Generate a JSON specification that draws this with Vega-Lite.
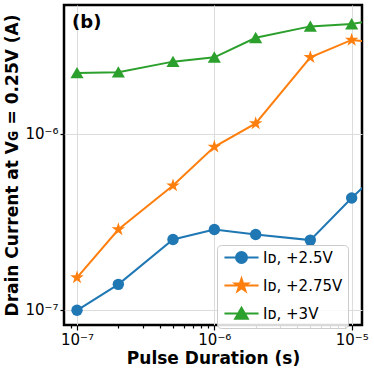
{
  "$schema": "https://vega.github.io/schema/vega-lite/v6.json",
  "autosize": "none",
  "width": 298,
  "height": 320,
  "padding": {"left": 64, "top": 5, "right": 12, "bottom": 47},
  "background": "white",
  "config": {
    "view": {"stroke": "black", "strokeWidth": 2.5},
    "font": "DejaVu Sans",
    "axis": {
      "labelFont": "DejaVu Sans",
      "labelFontSize": 15,
      "labelColor": "black",
      "titleFont": "DejaVu Sans",
      "titleFontSize": 17,
      "titleFontWeight": "bold",
      "titleColor": "black",
      "gridColor": "#dcdcdc",
      "gridWidth": 1,
      "tickColor": "black",
      "tickWidth": 1.2,
      "domain": false,
      "labelOverlap": false,
      "labelFlush": false,
      "labelBound": false
    },
    "legend": {
      "labelFont": "DejaVu Sans",
      "labelFontSize": 15,
      "labelColor": "black"
    }
  },
  "datasets": {
    "series": [
      {"t": 1e-7, "I": 9.9e-8, "s": "Iᴅ, +2.5V"},
      {"t": 2e-7, "I": 1.39e-7, "s": "Iᴅ, +2.5V"},
      {"t": 5e-7, "I": 2.5e-7, "s": "Iᴅ, +2.5V"},
      {"t": 1e-6, "I": 2.85e-7, "s": "Iᴅ, +2.5V"},
      {"t": 2e-6, "I": 2.67e-7, "s": "Iᴅ, +2.5V"},
      {"t": 5e-6, "I": 2.48e-7, "s": "Iᴅ, +2.5V"},
      {"t": 1e-5, "I": 4.3e-7, "s": "Iᴅ, +2.5V"},
      {"t": 2e-5, "I": 7.2e-7, "s": "Iᴅ, +2.5V"},
      {"t": 1e-7, "I": 1.52e-7, "s": "Iᴅ, +2.75V"},
      {"t": 2e-7, "I": 2.85e-7, "s": "Iᴅ, +2.75V"},
      {"t": 5e-7, "I": 5.06e-7, "s": "Iᴅ, +2.75V"},
      {"t": 1e-6, "I": 8.4e-7, "s": "Iᴅ, +2.75V"},
      {"t": 2e-6, "I": 1.14e-6, "s": "Iᴅ, +2.75V"},
      {"t": 5e-6, "I": 2.71e-6, "s": "Iᴅ, +2.75V"},
      {"t": 1e-5, "I": 3.4e-6, "s": "Iᴅ, +2.75V"},
      {"t": 2e-5, "I": 3.22e-6, "s": "Iᴅ, +2.75V"},
      {"t": 1e-7, "I": 2.21e-6, "s": "Iᴅ, +3V"},
      {"t": 2e-7, "I": 2.23e-6, "s": "Iᴅ, +3V"},
      {"t": 5e-7, "I": 2.56e-6, "s": "Iᴅ, +3V"},
      {"t": 1e-6, "I": 2.71e-6, "s": "Iᴅ, +3V"},
      {"t": 2e-6, "I": 3.5e-6, "s": "Iᴅ, +3V"},
      {"t": 5e-6, "I": 4.06e-6, "s": "Iᴅ, +3V"},
      {"t": 1e-5, "I": 4.19e-6, "s": "Iᴅ, +3V"},
      {"t": 2e-5, "I": 4.57e-6, "s": "Iᴅ, +3V"}
    ],
    "note": [{"t": 9.2e-8, "I": 4.27e-6, "label": "(b)"}]
  },
  "layer": [
    {
      "data": {"name": "series"},
      "mark": {"type": "line", "clip": true, "strokeWidth": 2},
      "encoding": {
        "x": {
          "field": "t", "type": "quantitative",
          "scale": {"type": "log", "domain": [8.04e-8, 1.189e-5], "nice": false},
          "axis": {
            "title": "Pulse Duration (s)",
            "titleY": 38,
            "titleBaseline": "alphabetic",
            "values": [9e-8, 1e-7, 2e-7, 3e-7, 4e-7, 5e-7, 6e-7, 7e-7, 8e-7, 9e-7, 1e-6, 2e-6, 3e-6, 4e-6, 5e-6, 6e-6, 7e-6, 8e-6, 9e-6, 1e-5],
            "labelExpr": "abs(log(datum.value)/LN10 - round(log(datum.value)/LN10)) < 0.001 ? '10' + (round(log(datum.value)/LN10) == -7 ? '⁻⁷' : round(log(datum.value)/LN10) == -6 ? '⁻⁶' : '⁻⁵') : ''",
            "labelPadding": 2,
            "grid": true,
            "gridOpacity": {"condition": {"test": "abs(log(datum.value)/LN10 - round(log(datum.value)/LN10)) < 0.001", "value": 1}, "value": 0},
            "tickSize": {"condition": {"test": "abs(log(datum.value)/LN10 - round(log(datum.value)/LN10)) < 0.001", "value": 5}, "value": 3}
          }
        },
        "y": {
          "field": "I", "type": "quantitative",
          "scale": {"type": "log", "domain": [8.17e-8, 5.37e-6], "nice": false},
          "axis": {
            "title": "Drain Current at Vɢ = 0.25V (A)",
            "titleX": -52,
            "titleY": 160,
            "titleAngle": -90,
            "titleAlign": "center",
            "titleBaseline": "middle",
            "values": [1e-7, 1e-6],
            "labelExpr": "'10' + (round(log(datum.value)/LN10) == -7 ? '⁻⁷' : '⁻⁶')",
            "labelBaseline": "middle",
            "tickSize": 4,
            "labelPadding": 2,
            "grid": true
          }
        },
        "color": {
          "field": "s", "type": "nominal", "sort": null,
          "scale": {"domain": ["Iᴅ, +2.5V", "Iᴅ, +2.75V", "Iᴅ, +3V"], "range": ["#1f77b4", "#ff7f0e", "#2ca02c"]}
        },
        "order": {"field": "t", "type": "quantitative"}
      }
    },
    {
      "data": {"name": "series"},
      "transform": [{"filter": "datum.s == 'Iᴅ, +2.5V'"}],
      "mark": {"type": "point", "shape": "circle", "clip": true, "filled": true, "opacity": 1, "size": 130},
      "encoding": {
        "x": {"field": "t", "type": "quantitative"},
        "y": {"field": "I", "type": "quantitative"},
        "color": {"field": "s", "type": "nominal", "sort": null}
      }
    },
    {
      "data": {"name": "series"},
      "transform": [{"filter": "datum.s == 'Iᴅ, +2.75V'"}],
      "mark": {"type": "point", "shape": "M0,-1.25L0.281,-0.386L1.189,-0.386L0.454,0.148L0.735,1.011L0,0.478L-0.735,1.011L-0.454,0.148L-1.189,-0.386L-0.281,-0.386Z", "clip": true, "filled": true, "opacity": 1, "size": 130},
      "encoding": {
        "x": {"field": "t", "type": "quantitative"},
        "y": {"field": "I", "type": "quantitative"},
        "color": {"field": "s", "type": "nominal", "sort": null}
      }
    },
    {
      "data": {"name": "series"},
      "transform": [{"filter": "datum.s == 'Iᴅ, +3V'"}],
      "mark": {"type": "point", "shape": "M0,-1.05L1.15,0.95L-1.15,0.95Z", "clip": true, "filled": true, "opacity": 1, "size": 130},
      "encoding": {
        "x": {"field": "t", "type": "quantitative"},
        "y": {"field": "I", "type": "quantitative"},
        "color": {"field": "s", "type": "nominal", "sort": null}
      }
    },
    {
      "data": {"name": "series"},
      "transform": [{"filter": "datum.t == 1e-7"}],
      "mark": {"type": "point", "filled": true, "opacity": 0, "size": 121, "strokeWidth": 2},
      "encoding": {
        "x": {"field": "t", "type": "quantitative"},
        "y": {"field": "I", "type": "quantitative"},
        "color": {
          "field": "s", "type": "nominal", "sort": null,
          "legend": {
            "title": null,
            "orient": "none",
            "legendX": 153,
            "legendY": 240,
            "padding": 5,
            "rowPadding": 7,
            "fillColor": "rgba(255,255,255,0.85)",
            "strokeColor": "#cccccc",
            "cornerRadius": 4,
            "symbolSize": 121,
            "symbolStrokeWidth": 2,
            "symbolOffset": 12,
            "labelOffset": 14,
            "symbolOpacity": 1
          }
        },
        "stroke": {
          "field": "s", "type": "nominal", "sort": null,
          "scale": {"domain": ["Iᴅ, +2.5V", "Iᴅ, +2.75V", "Iᴅ, +3V"], "range": ["#1f77b4", "#ff7f0e", "#2ca02c"]},
          "legend": {
            "title": null,
            "orient": "none",
            "legendX": 153,
            "legendY": 240,
            "padding": 5,
            "rowPadding": 7,
            "fillColor": "rgba(255,255,255,0.85)",
            "strokeColor": "#cccccc",
            "cornerRadius": 4,
            "symbolSize": 121,
            "symbolStrokeWidth": 2,
            "symbolOffset": 12,
            "labelOffset": 14,
            "symbolOpacity": 1
          }
        },
        "shape": {
          "field": "s", "type": "nominal", "sort": null,
          "scale": {"domain": ["Iᴅ, +2.5V", "Iᴅ, +2.75V", "Iᴅ, +3V"], "range": ["M-3.1,0H3.1M-1,0A1,1,0,1,0,1,0A1,1,0,1,0,-1,0Z", "M-3.1,0H3.1M0,-1.25L0.281,-0.386L1.189,-0.386L0.454,0.148L0.735,1.011L0,0.478L-0.735,1.011L-0.454,0.148L-1.189,-0.386L-0.281,-0.386Z", "M-3.1,0H3.1M0,-1.05L1.15,0.95L-1.15,0.95Z"]},
          "legend": {
            "title": null,
            "orient": "none",
            "legendX": 153,
            "legendY": 240,
            "padding": 5,
            "rowPadding": 7,
            "fillColor": "rgba(255,255,255,0.85)",
            "strokeColor": "#cccccc",
            "cornerRadius": 4,
            "symbolSize": 121,
            "symbolStrokeWidth": 2,
            "symbolOffset": 12,
            "labelOffset": 14,
            "symbolOpacity": 1
          }
        }
      }
    },
    {
      "data": {"name": "note"},
      "mark": {"type": "text", "align": "left", "baseline": "middle", "fontWeight": "bold", "fontSize": 18, "font": "DejaVu Sans", "color": "black"},
      "encoding": {
        "x": {"field": "t", "type": "quantitative"},
        "y": {"field": "I", "type": "quantitative"},
        "text": {"field": "label"}
      }
    }
  ]
}
